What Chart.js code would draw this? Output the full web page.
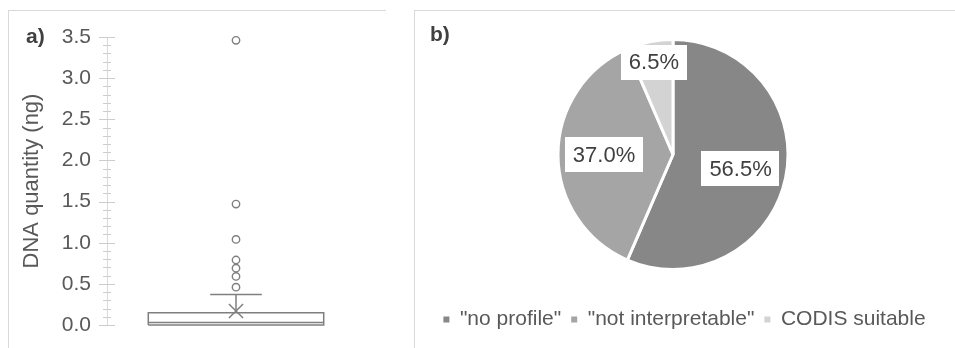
<!DOCTYPE html>
<html>
<head>
<meta charset="utf-8">
<script src="https://cdn.jsdelivr.net/npm/chart.js@4/dist/chart.umd.min.js"></script>
<style>
  html, body { margin: 0; padding: 0; background: #fff; }
  body { width: 955px; height: 348px; position: relative; overflow: hidden; }
  .frame { position: absolute; border-left: 1px solid #d9d9d9; border-top: 1px solid #d9d9d9; }
  #frameA { left: 8px; top: 10px; width: 377px; height: 338px; }
  #frameB { left: 414px; top: 10px; width: 541px; height: 338px; }
  .holder { position: absolute; }
  #holderA { left: 8px; top: 10px; width: 377px; height: 338px; }
  #holderB { left: 414px; top: 10px; width: 541px; height: 338px; }
</style>
</head>
<body>
<div class="frame" id="frameA"></div>
<div class="frame" id="frameB"></div>
<div class="holder" id="holderA"><canvas id="boxChart"></canvas></div>
<div class="holder" id="holderB"><canvas id="pieChart"></canvas></div>
<script>
// DNA quantity summary (ng)
const dnaQ1 = 0.0;
const dnaMedian = 0.03;
const dnaQ3 = 0.15;
const dnaWhiskerLow = 0.0;
const dnaWhiskerHigh = 0.37;
const dnaMean = 0.17;
const dnaOutliers = [0.46, 0.59, 0.69, 0.79, 1.04, 1.47, 3.46];
const yTickStep = 0.1;
const yMajorStep = 0.5;
const yMax = 3.5;

// STR profile outcome
const outcomeLabels = ['"no profile"', '"not interpretable"', 'CODIS suitable'];
const outcomeShares = [56.5, 37.0, 6.5];

const FONT = '"Liberation Sans", Arial, sans-serif';
const LINE = '#7f7f7f';
const BOX_HALF = 0.68;
const CAP_HALF = 0.2;

// small "a)" / "b)" tag in the corner of each panel
const panelTag = {
  id: 'panelTag',
  afterDraw(chart, args, opts) {
    const ctx = chart.ctx;
    ctx.save();
    ctx.font = 'bold 21px ' + FONT;
    ctx.fillStyle = '#404040';
    ctx.textBaseline = 'middle';
    ctx.textAlign = 'left';
    ctx.fillText(opts.text, opts.x, opts.y);
    ctx.restore();
  }
};

// tick marks that cross the axis line, long on multiples of 0.5
const crossTicks = {
  id: 'crossTicks',
  afterDraw(chart) {
    const scale = chart.scales.y;
    const ctx = chart.ctx;
    const x = scale.right;
    ctx.save();
    ctx.strokeStyle = '#cdcdcd';
    ctx.lineWidth = 1;
    scale.ticks.forEach(t => {
      const y = Math.round(scale.getPixelForValue(t.value)) + 0.5;
      const major = Math.abs(t.value / yMajorStep - Math.round(t.value / yMajorStep)) < 1e-6;
      const len = major ? 8 : 4;
      ctx.beginPath();
      ctx.moveTo(x - len, y);
      ctx.lineTo(x + len, y);
      ctx.stroke();
    });
    ctx.restore();
  }
};

const boxOutline = [
  {x: -BOX_HALF, y: dnaQ1}, {x: BOX_HALF, y: dnaQ1}, {x: BOX_HALF, y: dnaQ3},
  {x: -BOX_HALF, y: dnaQ3}, {x: -BOX_HALF, y: dnaQ1}
];

function lineSet(data) {
  return { data: data, showLine: true, borderColor: LINE, borderWidth: 1.5, pointRadius: 0, fill: false };
}

new Chart(document.getElementById('boxChart'), {
  type: 'scatter',
  data: {
    datasets: [
      lineSet(boxOutline),
      lineSet([{x: -BOX_HALF, y: dnaMedian}, {x: BOX_HALF, y: dnaMedian}]),
      lineSet([{x: 0, y: dnaQ3}, {x: 0, y: dnaWhiskerHigh}]),
      lineSet([{x: -CAP_HALF, y: dnaWhiskerHigh}, {x: CAP_HALF, y: dnaWhiskerHigh}]),
      lineSet([{x: 0, y: dnaWhiskerLow}, {x: 0, y: dnaQ1}]),
      {
        data: [{x: 0, y: dnaMean}],
        pointStyle: 'crossRot', pointRadius: 10, borderColor: LINE, borderWidth: 1.5
      },
      {
        data: dnaOutliers.map(v => ({x: 0, y: v})),
        pointStyle: 'circle', pointRadius: 3.7, backgroundColor: '#fff', borderColor: LINE, borderWidth: 1.4
      }
    ]
  },
  options: {
    responsive: true,
    maintainAspectRatio: false,
    animation: false,
    clip: false,
    layout: { padding: { top: 27, bottom: 23, right: 20, left: 0 } },
    plugins: {
      legend: { display: false },
      tooltip: { enabled: false },
      panelTag: { text: 'a)', x: 18, y: 27 }
    },
    scales: {
      x: { type: 'linear', min: -1, max: 1, display: false },
      y: {
        min: 0,
        max: yMax,
        afterFit(scale) { scale.width = 99; },
        border: { display: true, color: '#d9d9d9', width: 1 },
        // invisible tick marks just keep the labels clear of the axis
        grid: { display: true, drawOnChartArea: false, drawTicks: true, tickLength: 16, tickColor: 'rgba(0,0,0,0)' },
        ticks: {
          stepSize: yTickStep,
          autoSkip: false,
          padding: 0,
          color: '#595959',
          font: { family: FONT, size: 21 },
          callback: v => {
            const r = v / yMajorStep;
            return Math.abs(r - Math.round(r)) < 1e-6 ? v.toFixed(1) : '';
          }
        },
        title: {
          display: true,
          text: 'DNA quantity (ng)',
          color: '#595959',
          font: { family: FONT, size: 22 },
          padding: { top: 11, bottom: 0 }
        }
      }
    }
  },
  plugins: [panelTag, crossTicks]
});

// percentage labels in white boxes on each slice
const labelReach = [0.6, 0.6, 0.82];
const sliceLabels = {
  id: 'sliceLabels',
  afterDatasetsDraw(chart) {
    const ctx = chart.ctx;
    const meta = chart.getDatasetMeta(0);
    ctx.save();
    ctx.font = '22px ' + FONT;
    ctx.textAlign = 'center';
    ctx.textBaseline = 'middle';
    meta.data.forEach((arc, i) => {
      const p = arc.getProps(['x', 'y', 'startAngle', 'endAngle', 'outerRadius'], true);
      const mid = (p.startAngle + p.endAngle) / 2;
      const r = p.outerRadius * labelReach[i];
      const cx = p.x + Math.cos(mid) * r;
      const cy = p.y + Math.sin(mid) * r;
      const text = outcomeShares[i].toFixed(1) + '%';
      const w = ctx.measureText(text).width + 16;
      const h = 35;
      ctx.fillStyle = '#fff';
      ctx.fillRect(Math.round(cx - w / 2), Math.round(cy - h / 2), Math.round(w), h);
      ctx.fillStyle = '#404040';
      ctx.fillText(text, cx, cy + 1);
    });
    ctx.restore();
  }
};

// nudge the pie a little left of the panel centre
const pieShift = {
  id: 'pieShift',
  afterLayout(chart) {
    chart.chartArea.left -= 11.5;
    chart.chartArea.right -= 11.5;
  }
};

const pieColors = ['#878787', '#a5a5a5', '#d3d3d3'];

new Chart(document.getElementById('pieChart'), {
  type: 'pie',
  data: {
    labels: outcomeLabels,
    datasets: [{
      data: outcomeShares,
      backgroundColor: pieColors,
      borderColor: '#fff',
      borderWidth: 3,
      radius: 115
    }]
  },
  options: {
    responsive: true,
    maintainAspectRatio: false,
    animation: false,
    layout: { padding: { top: 0, bottom: 8, left: 0, right: 0 } },
    plugins: {
      tooltip: { enabled: false },
      panelTag: { text: 'b)', x: 16, y: 25 },
      legend: {
        position: 'bottom',
        labels: {
          boxWidth: 6,
          boxHeight: 6,
          padding: 10,
          color: '#595959',
          font: { family: FONT, size: 21 },
          generateLabels(chart) {
            return outcomeLabels.map((text, i) => ({
              text: text,
              fillStyle: pieColors[i],
              strokeStyle: pieColors[i],
              lineWidth: 0,
              fontColor: '#595959',
              index: i
            }));
          }
        }
      }
    }
  },
  plugins: [panelTag, sliceLabels, pieShift]
});
</script>
</body>
</html>
